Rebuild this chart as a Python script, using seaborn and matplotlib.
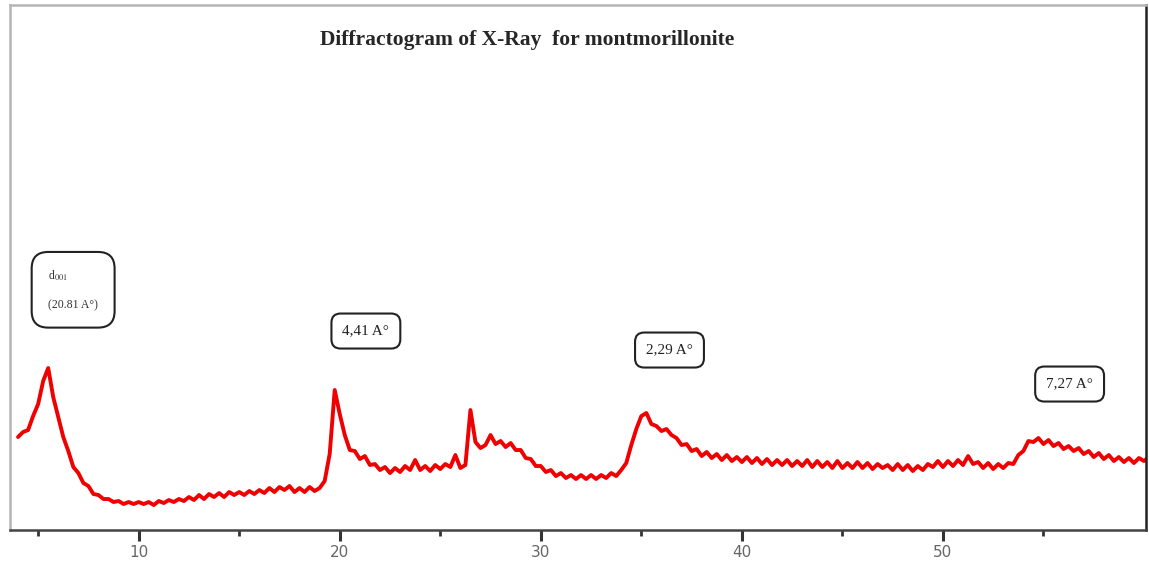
import matplotlib
matplotlib.use('Agg')
import matplotlib.pyplot as plt
import seaborn as sns
import pandas as pd
import numpy as np

# 2-theta positions (degrees)
two_theta = [
    4.0, 4.25, 4.5, 4.75, 5.0, 5.25, 5.5, 5.75,
    6.0, 6.25, 6.5, 6.75, 7.0, 7.25, 7.5, 7.75,
    8.0, 8.25, 8.5, 8.75, 9.0, 9.25, 9.5, 9.75,
    10.0, 10.25, 10.5, 10.75, 11.0, 11.25, 11.5, 11.75,
    12.0, 12.25, 12.5, 12.75, 13.0, 13.25, 13.5, 13.75,
    14.0, 14.25, 14.5, 14.75, 15.0, 15.25, 15.5, 15.75,
    16.0, 16.25, 16.5, 16.75, 17.0, 17.25, 17.5, 17.75,
    18.0, 18.25, 18.5, 18.75, 19.0, 19.25, 19.5, 19.75,
    20.0, 20.25, 20.5, 20.75, 21.0, 21.25, 21.5, 21.75,
    22.0, 22.25, 22.5, 22.75, 23.0, 23.25, 23.5, 23.75,
    24.0, 24.25, 24.5, 24.75, 25.0, 25.25, 25.5, 25.75,
    26.0, 26.25, 26.5, 26.75, 27.0, 27.25, 27.5, 27.75,
    28.0, 28.25, 28.5, 28.75, 29.0, 29.25, 29.5, 29.75,
    30.0, 30.25, 30.5, 30.75, 31.0, 31.25, 31.5, 31.75,
    32.0, 32.25, 32.5, 32.75, 33.0, 33.25, 33.5, 33.75,
    34.0, 34.25, 34.5, 34.75, 35.0, 35.25, 35.5, 35.75,
    36.0, 36.25, 36.5, 36.75, 37.0, 37.25, 37.5, 37.75,
    38.0, 38.25, 38.5, 38.75, 39.0, 39.25, 39.5, 39.75,
    40.0, 40.25, 40.5, 40.75, 41.0, 41.25, 41.5, 41.75,
    42.0, 42.25, 42.5, 42.75, 43.0, 43.25, 43.5, 43.75,
    44.0, 44.25, 44.5, 44.75, 45.0, 45.25, 45.5, 45.75,
    46.0, 46.25, 46.5, 46.75, 47.0, 47.25, 47.5, 47.75,
    48.0, 48.25, 48.5, 48.75, 49.0, 49.25, 49.5, 49.75,
    50.0, 50.25, 50.5, 50.75, 51.0, 51.25, 51.5, 51.75,
    52.0, 52.25, 52.5, 52.75, 53.0, 53.25, 53.5, 53.75,
    54.0, 54.25, 54.5, 54.75, 55.0, 55.25, 55.5, 55.75,
    56.0, 56.25, 56.5, 56.75, 57.0, 57.25, 57.5, 57.75,
    58.0, 58.25, 58.5, 58.75, 59.0, 59.25, 59.5, 59.75,
    60.0, 60.25,
]

# intensity (arbitrary units)
intensity = [
    93, 98, 100, 114, 126, 149, 162, 133,
    113, 93, 79, 63, 57, 47, 44, 36,
    35, 31, 31, 28, 29, 26, 28, 26,
    28, 26, 28, 25, 29, 27, 30, 28,
    31, 29, 33, 30, 35, 31, 36, 33,
    37, 33, 38, 35, 38, 35, 39, 36,
    40, 37, 42, 38, 43, 40, 44, 38,
    42, 38, 43, 39, 42, 49, 76, 140,
    116, 95, 80, 79, 71, 74, 65, 66,
    60, 63, 57, 62, 58, 64, 60, 70,
    60, 64, 59, 65, 61, 66, 63, 75,
    62, 65, 120, 88, 82, 85, 95, 86,
    89, 83, 87, 80, 80, 72, 71, 64,
    64, 58, 60, 54, 57, 52, 55, 51,
    55, 51, 55, 51, 55, 52, 57, 54,
    60, 67, 85, 101, 114, 117, 106, 104,
    99, 101, 95, 92, 85, 86, 79, 81,
    74, 78, 72, 76, 70, 75, 69, 73,
    68, 73, 67, 72, 66, 71, 65, 70,
    65, 70, 64, 69, 64, 70, 63, 69,
    63, 68, 62, 69, 62, 67, 62, 68,
    62, 67, 61, 66, 62, 65, 60, 66,
    60, 65, 59, 64, 60, 66, 63, 69,
    63, 69, 64, 70, 65, 74, 66, 68,
    62, 67, 61, 66, 62, 67, 66, 75,
    79, 89, 88, 92, 86, 90, 84, 87,
    81, 84, 79, 82, 76, 79, 73, 77,
    71, 75, 69, 73, 68, 72, 67, 72,
    69, 73,
]

# peak labels: text, 2-theta, height of the label box
peak_labels = ['4,41 A°', '2,29 A°', '7,27 A°']
peak_label_x = [21.3, 36.4, 56.3]
peak_label_y = [199, 180, 146]

major_ticks = [10, 20, 30, 40, 50]
minor_ticks = [5, 15, 25, 35, 45, 55]

df = pd.DataFrame({'two_theta': two_theta, 'intensity': intensity})

sns.set_theme(style='white')
plt.rcParams['font.family'] = ['DejaVu Sans']
plt.rcParams['mathtext.fontset'] = 'stix'

fig = plt.figure(figsize=(11.49, 5.62), dpi=100)
ax = fig.add_axes([0.0087, 0.0569, 0.9887, 0.9341])

sns.lineplot(data=df, x='two_theta', y='intensity', color='#f00000',
             linewidth=2.8, sort=False, estimator=None, ax=ax)

ax.set_xlim(3.6, 60.1)
ax.set_ylim(0, 525)
ax.set_xlabel('')
ax.set_ylabel('')
ax.set_yticks([])
ax.set_xticks(major_ticks)
ax.set_xticks(minor_ticks, minor=True)
ax.tick_params(axis='x', which='major', direction='out', length=8, width=2.2,
               color='#333333', labelsize=11, labelcolor='#666666', pad=3,
               bottom=True)
ax.tick_params(axis='x', which='minor', direction='out', length=4, width=2,
               color='#333333', bottom=True)

# frame: light grey on top/left, dark on right/bottom
ax.spines['top'].set_color('#b5b5b5')
ax.spines['left'].set_color('#b5b5b5')
ax.spines['right'].set_color('#222222')
ax.spines['bottom'].set_color('#444444')
for s in ax.spines.values():
    s.set_linewidth(1.8)

ax.text(0.455, 0.933, 'Diffractogram of X-Ray  for montmorillonite',
        transform=ax.transAxes, ha='center', va='center',
        fontsize=15.5, fontweight='bold', family='Liberation Serif')

# d001 label box
ax.text(5.5, 240, 'd$_{001}$\n\n(20.81 A°)', ha='left', va='center',
        fontsize=8.5, family='Liberation Serif', color='#333333', linespacing=1.2,
        bbox=dict(boxstyle='round,pad=1.4,rounding_size=1.4',
                  facecolor='white', edgecolor='#222222', linewidth=1.5))

for label, lx, ly in zip(peak_labels, peak_label_x, peak_label_y):
    ax.text(lx, ly, label, ha='center', va='center',
            fontsize=11, family='Liberation Serif', color='#222222',
            bbox=dict(boxstyle='round,pad=0.72,rounding_size=0.6',
                      facecolor='white', edgecolor='#222222', linewidth=1.5))

fig.savefig('out.png', dpi=100)
plt.close(fig)
